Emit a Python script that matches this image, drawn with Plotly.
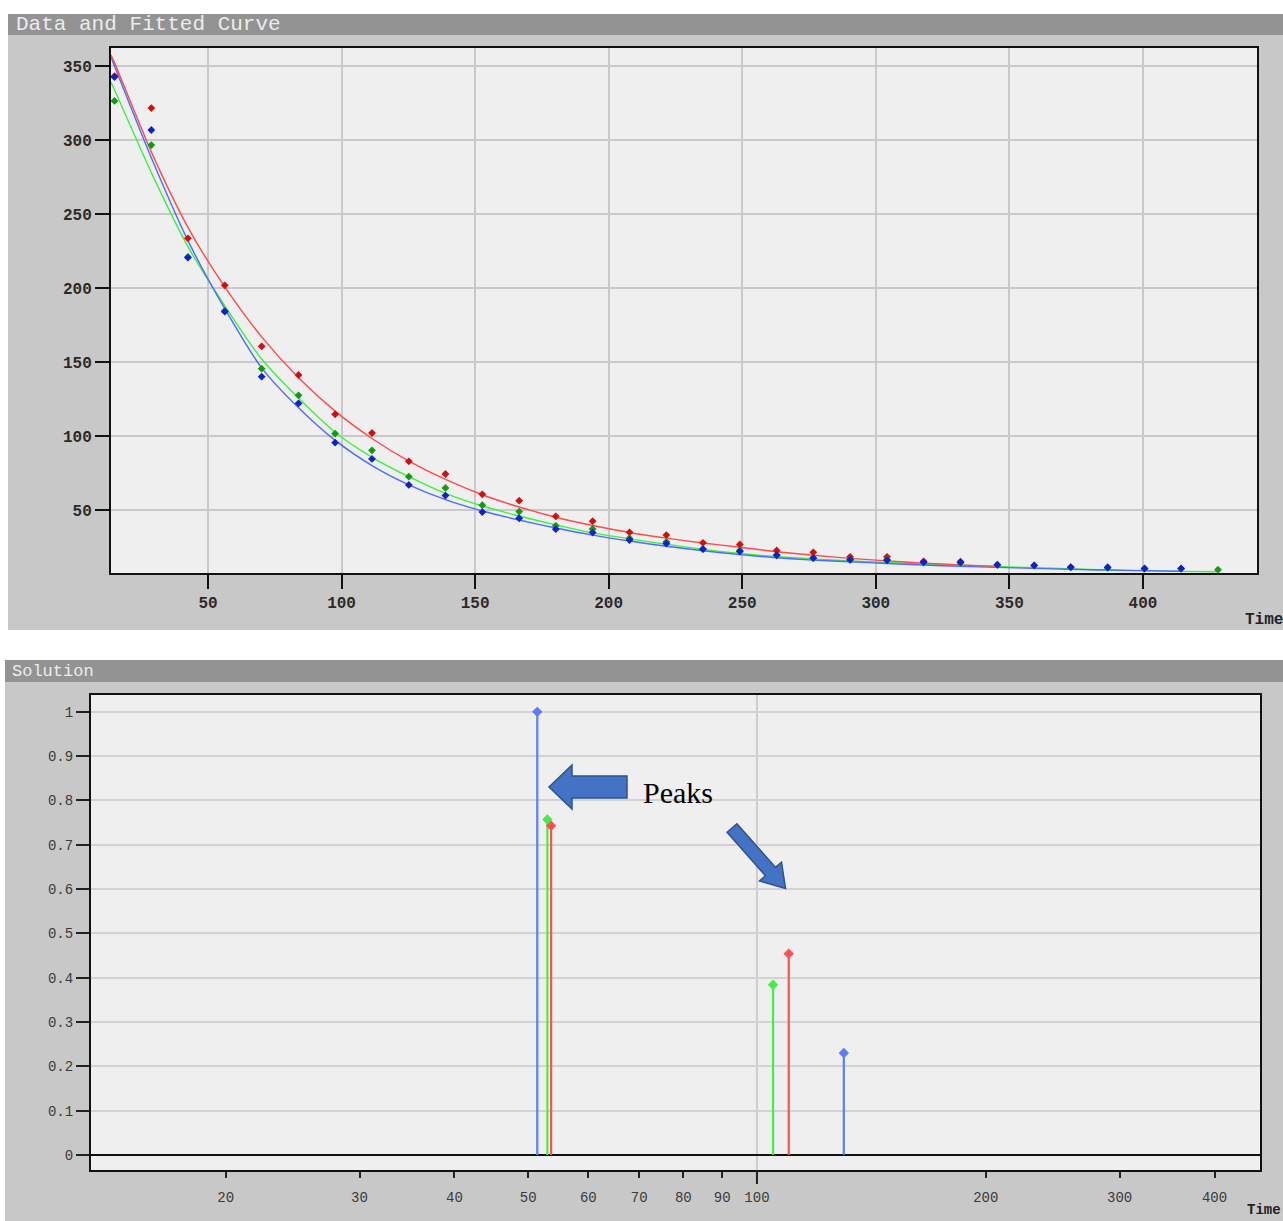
import math
import plotly.graph_objects as go

W, H = 1283, 1221

# ---------------- data: top chart ("Data and Fitted Curve") ----------------
time = [15.0, 28.8, 42.5, 56.3, 70.1, 83.9, 97.6, 111.4, 125.2, 138.9, 152.7,
        166.5, 180.2, 194.0, 207.8, 221.6, 235.3, 249.1, 262.9, 276.6, 290.4,
        304.2, 317.9, 331.7, 345.5, 359.3, 373.0, 386.8, 400.6, 414.3, 428.1]

red_obs = [343.2, 321.6, 233.6, 201.8, 160.6, 141.2, 114.7, 102.0, 82.9, 74.3,
           60.6, 56.3, 45.7, 42.4, 34.9, 33.0, 27.8, 26.7, 22.6, 21.4, 18.3,
           18.3, 15.3, 15.0]
blue_obs = [342.6, 306.8, 220.5, 184.0, 140.1, 122.1, 95.5, 84.5, 66.9, 59.7,
            48.6, 44.4, 37.0, 34.7, 29.7, 27.3, 23.5, 22.0, 19.5, 17.5, 16.3,
            16.0, 14.8, 14.7, 13.0, 12.5, 11.4, 11.3, 10.5, 10.5]
green_obs = [326.4, 296.6, 221.0, 184.7, 145.5, 127.5, 101.6, 90.3, 72.5, 64.9,
             53.2, 48.9, 39.4, 37.2, 30.9, 28.5, 23.7, 22.6, 19.2, 17.6, 16.5,
             16.5, 14.5, 14.2, 12.8, 12.5, 11.2, 10.8, 10.3, 10.2, 9.6]

curve_time = [13.7] + time
red_fit = [357.5, 352.3, 292.0, 241.0, 200.7, 167.0, 139.4, 116.8, 98.3, 83.0,
           70.6, 60.3, 52.0, 45.1, 39.5, 34.8, 31.0, 27.7, 24.8, 21.8, 19.4,
           17.3, 15.6, 14.1, 12.9, 11.9]
blue_fit = [356.0, 350.0, 288.0, 232.0, 186.0, 146.0, 119.0, 97.0, 80.0, 67.0,
            57.0, 49.3, 43.2, 37.8, 33.0, 29.0, 25.5, 22.4, 19.8, 17.7, 16.1,
            15.0, 13.8, 12.8, 11.9, 11.2, 10.5, 9.9, 9.4, 9.0, 8.6]
green_fit = [339.0, 334.0, 278.0, 228.0, 188.0, 152.0, 125.6, 102.5, 85.6, 72.5,
             61.2, 52.7, 45.9, 39.9, 34.5, 30.5, 26.8, 23.4, 20.6, 18.5, 16.9,
             15.6, 14.5, 13.4, 12.6, 11.8, 11.0, 10.2, 9.4, 8.9, 8.5, 8.2]

top_xticks = [50, 100, 150, 200, 250, 300, 350, 400]
top_yticks = [50, 100, 150, 200, 250, 300, 350]

# ---------------- data: bottom chart ("Solution") ----------------
peak_blue_t = [51.4, 130.1]
peak_blue_h = [1.0, 0.230]
peak_green_t = [53.0, 105.0]
peak_green_h = [0.757, 0.384]
peak_red_t = [53.6, 110.1]
peak_red_h = [0.743, 0.454]

bot_xticks = [20, 30, 40, 50, 60, 70, 80, 90, 100, 200, 300, 400]
bot_yticks = [0, 0.1, 0.2, 0.3, 0.4, 0.5, 0.6, 0.7, 0.8, 0.9, 1.0]
bot_yticktext = ["0", "0.1", "0.2", "0.3", "0.4", "0.5", "0.6", "0.7", "0.8", "0.9", "1"]


def pxx(x):
    return x / W


def pxy(y):
    return 1 - y / H


fig = go.Figure()

# fitted curves (top)
for vals, col in [(green_fit, "#3ef03e"), (blue_fit, "#4a6cff"), (red_fit, "#ff4a4a")]:
    fig.add_trace(go.Scatter(x=curve_time[:len(vals)], y=vals, mode="lines",
                             line=dict(color=col, width=1.4, shape="spline", smoothing=0.7),
                             xaxis="x", yaxis="y", hoverinfo="skip"))

# observed points (top)
for vals, col in [(red_obs, "#d01010"), (green_obs, "#129a12"), (blue_obs, "#1020d0")]:
    fig.add_trace(go.Scatter(x=time[:len(vals)], y=vals, mode="markers",
                             marker=dict(symbol="diamond", size=6, color=col),
                             xaxis="x", yaxis="y", hoverinfo="skip"))

# stems (bottom)
for ts, hs, col in [(peak_blue_t, peak_blue_h, "#5a7dff"),
                    (peak_green_t, peak_green_h, "#44ee44"),
                    (peak_red_t, peak_red_h, "#ff5050")]:
    for t, h in zip(ts, hs):
        fig.add_trace(go.Scatter(x=[t, t], y=[0, h], mode="lines",
                                 line=dict(color=col, width=2.2),
                                 xaxis="x2", yaxis="y2", hoverinfo="skip"))
    fig.add_trace(go.Scatter(x=ts, y=hs, mode="markers",
                             marker=dict(symbol="diamond", size=8, color=col),
                             xaxis="x2", yaxis="y2", hoverinfo="skip"))

shapes = []
# white regions around panels
for (x0, y0, x1, y1) in [(0, 0, W, 14), (0, 14, 8, 630), (0, 630, W, 660), (0, 660, 5, H)]:
    shapes.append(dict(type="rect", xref="paper", yref="paper",
                       x0=pxx(x0), x1=pxx(x1), y0=pxy(y1), y1=pxy(y0),
                       fillcolor="white", line=dict(width=0), layer="below"))
# title bars
for (x0, y0, x1, y1) in [(8, 14, W, 35), (5, 660, W, 682)]:
    shapes.append(dict(type="rect", xref="paper", yref="paper",
                       x0=pxx(x0), x1=pxx(x1), y0=pxy(y1), y1=pxy(y0),
                       fillcolor="#939393", line=dict(width=0), layer="below"))
# vertical grid line at 100 on log axis
shapes.append(dict(type="line", xref="x2", yref="y2 domain", x0=100, x1=100, y0=0, y1=1,
                   line=dict(color="#cdcdcd", width=2), layer="below"))
# long tick at 100
shapes.append(dict(type="line", xref="x2", yref="paper", x0=100, x1=100,
                   y0=pxy(1184), y1=pxy(1170), line=dict(color="#222", width=2)))


def poly(points):
    s = "M " + " L ".join(f"{pxx(x):.5f},{pxy(y):.5f}" for x, y in points) + " Z"
    return s


# block arrow pointing left
left_arrow = [(549, 787), (572, 765), (572, 776), (627, 776), (627, 798),
              (572, 798), (572, 809)]
shapes.append(dict(type="path", xref="paper", yref="paper", path=poly(left_arrow),
                   fillcolor="#4472c4", line=dict(color="#2f528f", width=1.5)))
# diagonal block arrow pointing down-right
diag_arrow = [(736.9, 823.7), (775.6, 867.4), (781.5, 862.2), (785.5, 888.5),
              (759.5, 881.0), (765.4, 875.8), (727.1, 832.3)]
shapes.append(dict(type="path", xref="paper", yref="paper", path=poly(diag_arrow),
                   fillcolor="#4472c4", line=dict(color="#2f528f", width=1.5)))

annotations = [
    dict(text="Data and Fitted Curve", x=pxx(14), y=pxy(24), xref="paper", yref="paper",
         xanchor="left", yanchor="middle", showarrow=False,
         font=dict(family="Liberation Mono", size=21, color="#ececec")),
    dict(text="Solution", x=pxx(10), y=pxy(671), xref="paper", yref="paper",
         xanchor="left", yanchor="middle", showarrow=False,
         font=dict(family="Liberation Mono", size=17, color="#ececec")),
    dict(text="Time", x=pxx(1243), y=pxy(620), xref="paper", yref="paper",
         xanchor="left", yanchor="middle", showarrow=False,
         font=dict(family="Liberation Mono", size=16, color="#222", weight="bold")),
    dict(text="Time", x=pxx(1245), y=pxy(1210), xref="paper", yref="paper",
         xanchor="left", yanchor="middle", showarrow=False,
         font=dict(family="Liberation Mono", size=14, color="#222", weight="bold")),
    dict(text="Peaks", x=pxx(678), y=pxy(792), xref="paper", yref="paper",
         xanchor="center", yanchor="middle", showarrow=False,
         font=dict(family="Liberation Serif", size=30, color="black")),
]

top_font = dict(family="Liberation Mono", size=16, color="#2a2a2a", weight="bold")
bot_font = dict(family="Liberation Mono", size=14, color="#3a3a3a")

fig.update_layout(
    width=W, height=H, autosize=False,
    margin=dict(l=0, r=0, t=0, b=0, pad=0),
    paper_bgcolor="#c8c8c8", plot_bgcolor="#efefef",
    showlegend=False, template=None,
    shapes=shapes, annotations=annotations,
    xaxis=dict(domain=[pxx(111), pxx(1257)], anchor="y", range=[13.7, 442.7],
               tickvals=top_xticks, ticks="outside", ticklen=14, tickwidth=2,
               tickcolor="#111", showgrid=True, gridcolor="#c9c9c9", gridwidth=2,
               showline=True, linecolor="#111", linewidth=2, mirror=True,
               zeroline=False, tickfont=top_font, automargin=False),
    yaxis=dict(domain=[pxy(573), pxy(48)], anchor="x", range=[7.4, 362.2],
               tickvals=top_yticks, ticks="outside", ticklen=14, tickwidth=2,
               tickcolor="#111", showgrid=True, gridcolor="#c9c9c9", gridwidth=2,
               showline=True, linecolor="#111", linewidth=2, mirror=True,
               zeroline=False, tickfont=top_font, automargin=False),
    xaxis2=dict(type="log", domain=[pxx(91), pxx(1260)], anchor="y2",
                range=[math.log10(13.3), math.log10(459)],
                tickvals=bot_xticks, ticktext=[str(v) for v in bot_xticks],
                ticks="outside", ticklen=6, tickwidth=1.5, tickcolor="#222",
                ticklabelstandoff=7,
                showgrid=False, showline=True, linecolor="#111", linewidth=2,
                mirror=True, zeroline=False, tickfont=bot_font, automargin=False),
    yaxis2=dict(domain=[pxy(1170), pxy(695)], anchor="x2", range=[-0.034, 1.038],
                tickvals=bot_yticks, ticktext=bot_yticktext,
                ticks="outside", ticklen=13, tickwidth=2, tickcolor="#222",
                showgrid=True, gridcolor="#d2d2d2", gridwidth=2,
                zeroline=True, zerolinecolor="#111", zerolinewidth=2,
                showline=True, linecolor="#111", linewidth=2, mirror=True,
                tickfont=bot_font, automargin=False),
)

fig.write_html("out.html", include_plotlyjs=True, config={"displayModeBar": False})
